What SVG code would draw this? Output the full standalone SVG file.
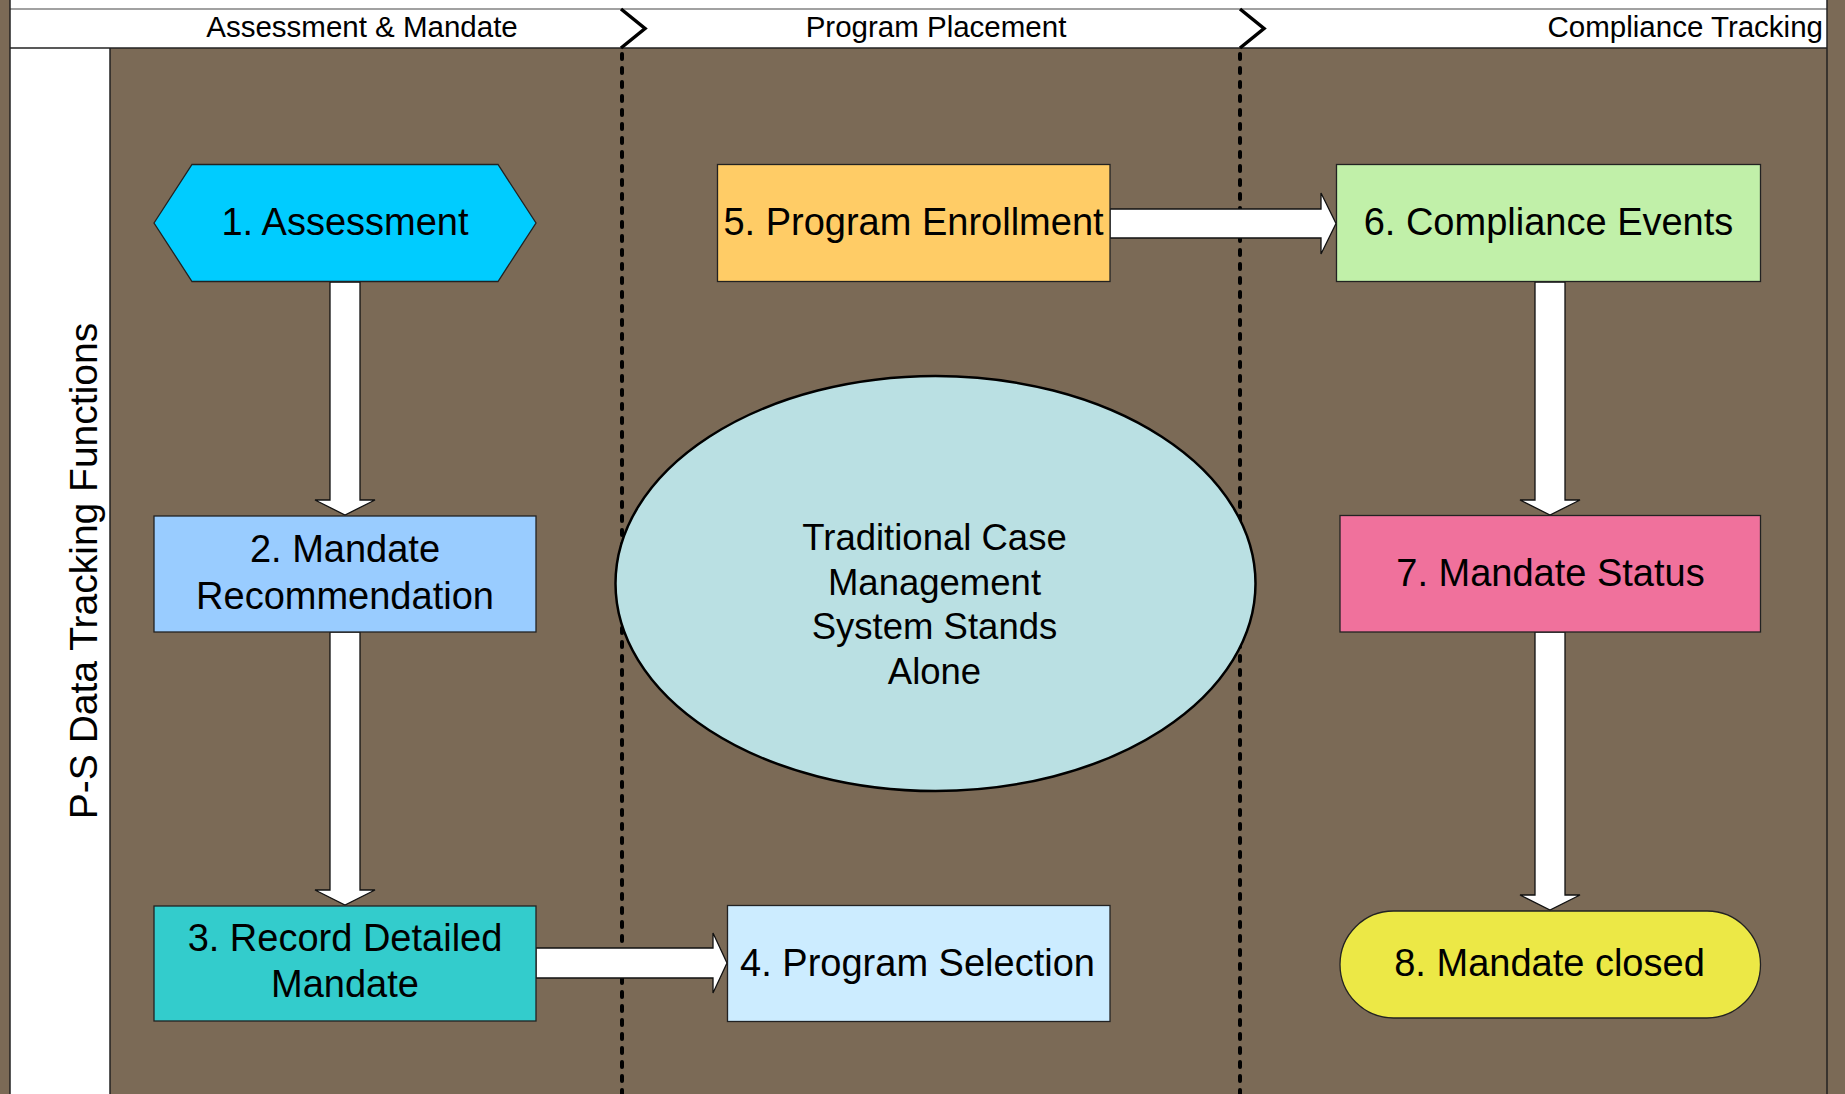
<svg xmlns="http://www.w3.org/2000/svg" width="1845" height="1094" viewBox="0 0 1845 1094">
<style>
.lbl{font-family:"Liberation Sans",Arial,sans-serif;font-size:38px;fill:#000;text-anchor:middle}
.hdr{font-family:"Liberation Sans",Arial,sans-serif;font-size:29.5px;fill:#000}
.node{stroke:#222;stroke-width:1.3}
.arrow{fill:#fff;stroke:#111;stroke-width:1.3;stroke-linejoin:miter}
.sep{stroke:#000;stroke-width:4;stroke-dasharray:5 9;stroke-linecap:round;fill:none}
.chev{stroke:#000;stroke-width:3.5;fill:none;stroke-linejoin:miter}
</style>
<rect x="0" y="0" width="1845" height="1094" fill="#7B6A56"/>
<g id="pool">
<rect x="10" y="0" width="1817" height="48" fill="#fff"/>
<rect x="10" y="48" width="100" height="1046" fill="#fff"/>
<line x1="10" y1="9" x2="1827" y2="9" stroke="#444" stroke-width="1.2"/>
<line x1="10" y1="48" x2="1827" y2="48" stroke="#222" stroke-width="1.5"/>
<line x1="10" y1="0" x2="10" y2="1094" stroke="#222" stroke-width="1.5"/>
<line x1="110" y1="48" x2="110" y2="1094" stroke="#222" stroke-width="1.5"/>
<line x1="1827" y1="0" x2="1827" y2="1094" stroke="#222" stroke-width="1.5"/>
<text class="hdr" x="362" y="36.5" text-anchor="middle">Assessment &amp; Mandate</text>
<text class="hdr" x="936" y="36.5" text-anchor="middle">Program Placement</text>
<text class="hdr" x="1823" y="36.5" text-anchor="end">Compliance Tracking</text>
<polyline class="chev" points="621,9 645,28.5 621,48"/>
<polyline class="chev" points="1240,9 1264,28.5 1240,48"/>
<line class="sep" x1="622" y1="54" x2="622" y2="1094"/>
<line class="sep" x1="1240" y1="54" x2="1240" y2="1094"/>
<text class="lbl" style="font-size:39px" transform="translate(97,571) rotate(-90)" x="0" y="0">P-S Data Tracking Functions</text>
</g>
<g id="connectors">
<polygon class="arrow" points="330,282 360,282 360,500 375,500 345,515 315,500 330,500"/>
<polygon class="arrow" points="330,632 360,632 360,890 375,890 345,905 315,890 330,890"/>
<polygon class="arrow" points="536,948 713,948 713,933 727,963 713,993 713,978 536,978"/>
<polygon class="arrow" points="1110,209 1321,209 1321,193 1336,223.5 1321,254 1321,238 1110,238"/>
<polygon class="arrow" points="1535,282 1565,282 1565,500 1580,500 1550,515 1520,500 1535,500"/>
<polygon class="arrow" points="1535,632 1565,632 1565,895 1580,895 1550,910 1520,895 1535,895"/>
</g>
<g id="n1">
<polygon class="node" points="154,223 192,164.5 498,164.5 536,223 498,281.5 192,281.5" fill="#00CCFF"/>
<text class="lbl" x="345" y="235">1. Assessment</text>
</g>
<g id="n2">
<rect class="node" x="154" y="516" width="382" height="116" fill="#99CCFF"/>
<text class="lbl" x="345" y="561.5">2. Mandate</text>
<text class="lbl" x="345" y="609">Recommendation</text>
</g>
<g id="n3">
<rect class="node" x="154" y="906" width="382" height="115" fill="#33CCCC"/>
<text class="lbl" x="345" y="950.5">3. Record Detailed</text>
<text class="lbl" x="345" y="996.5">Mandate</text>
</g>
<g id="n4">
<rect class="node" x="727.5" y="905.5" width="382.5" height="116" fill="#CCECFF"/>
<text class="lbl" x="917.5" y="975.5">4. Program Selection</text>
</g>
<g id="n5">
<rect class="node" x="717.5" y="164.5" width="392.5" height="117" fill="#FFCC66"/>
<text class="lbl" x="913.5" y="235">5. Program Enrollment</text>
</g>
<g id="n6">
<rect class="node" x="1336.5" y="164.5" width="424" height="117" fill="#C1F0A9"/>
<text class="lbl" x="1548.5" y="235">6. Compliance Events</text>
</g>
<g id="n7">
<rect class="node" x="1340" y="515.5" width="420.5" height="116.5" fill="#F0719C"/>
<text class="lbl" x="1550.5" y="586">7. Mandate Status</text>
</g>
<g id="n8">
<rect class="node" x="1340" y="911" width="420.5" height="107" rx="53.5" ry="53.5" fill="#ECE846"/>
<text class="lbl" x="1549.5" y="976">8. Mandate closed</text>
</g>
<g id="system">
<ellipse cx="935.5" cy="583.5" rx="320" ry="207.5" fill="#BAE0E3" stroke="#000" stroke-width="2.5"/>
<text class="lbl" style="font-size:36.5px" x="934.5" y="550">Traditional Case</text>
<text class="lbl" style="font-size:36.5px" x="934.5" y="594.5">Management</text>
<text class="lbl" style="font-size:36.5px" x="934.5" y="639">System Stands</text>
<text class="lbl" style="font-size:36.5px" x="934.5" y="683.5">Alone</text>
</g>
</svg>
